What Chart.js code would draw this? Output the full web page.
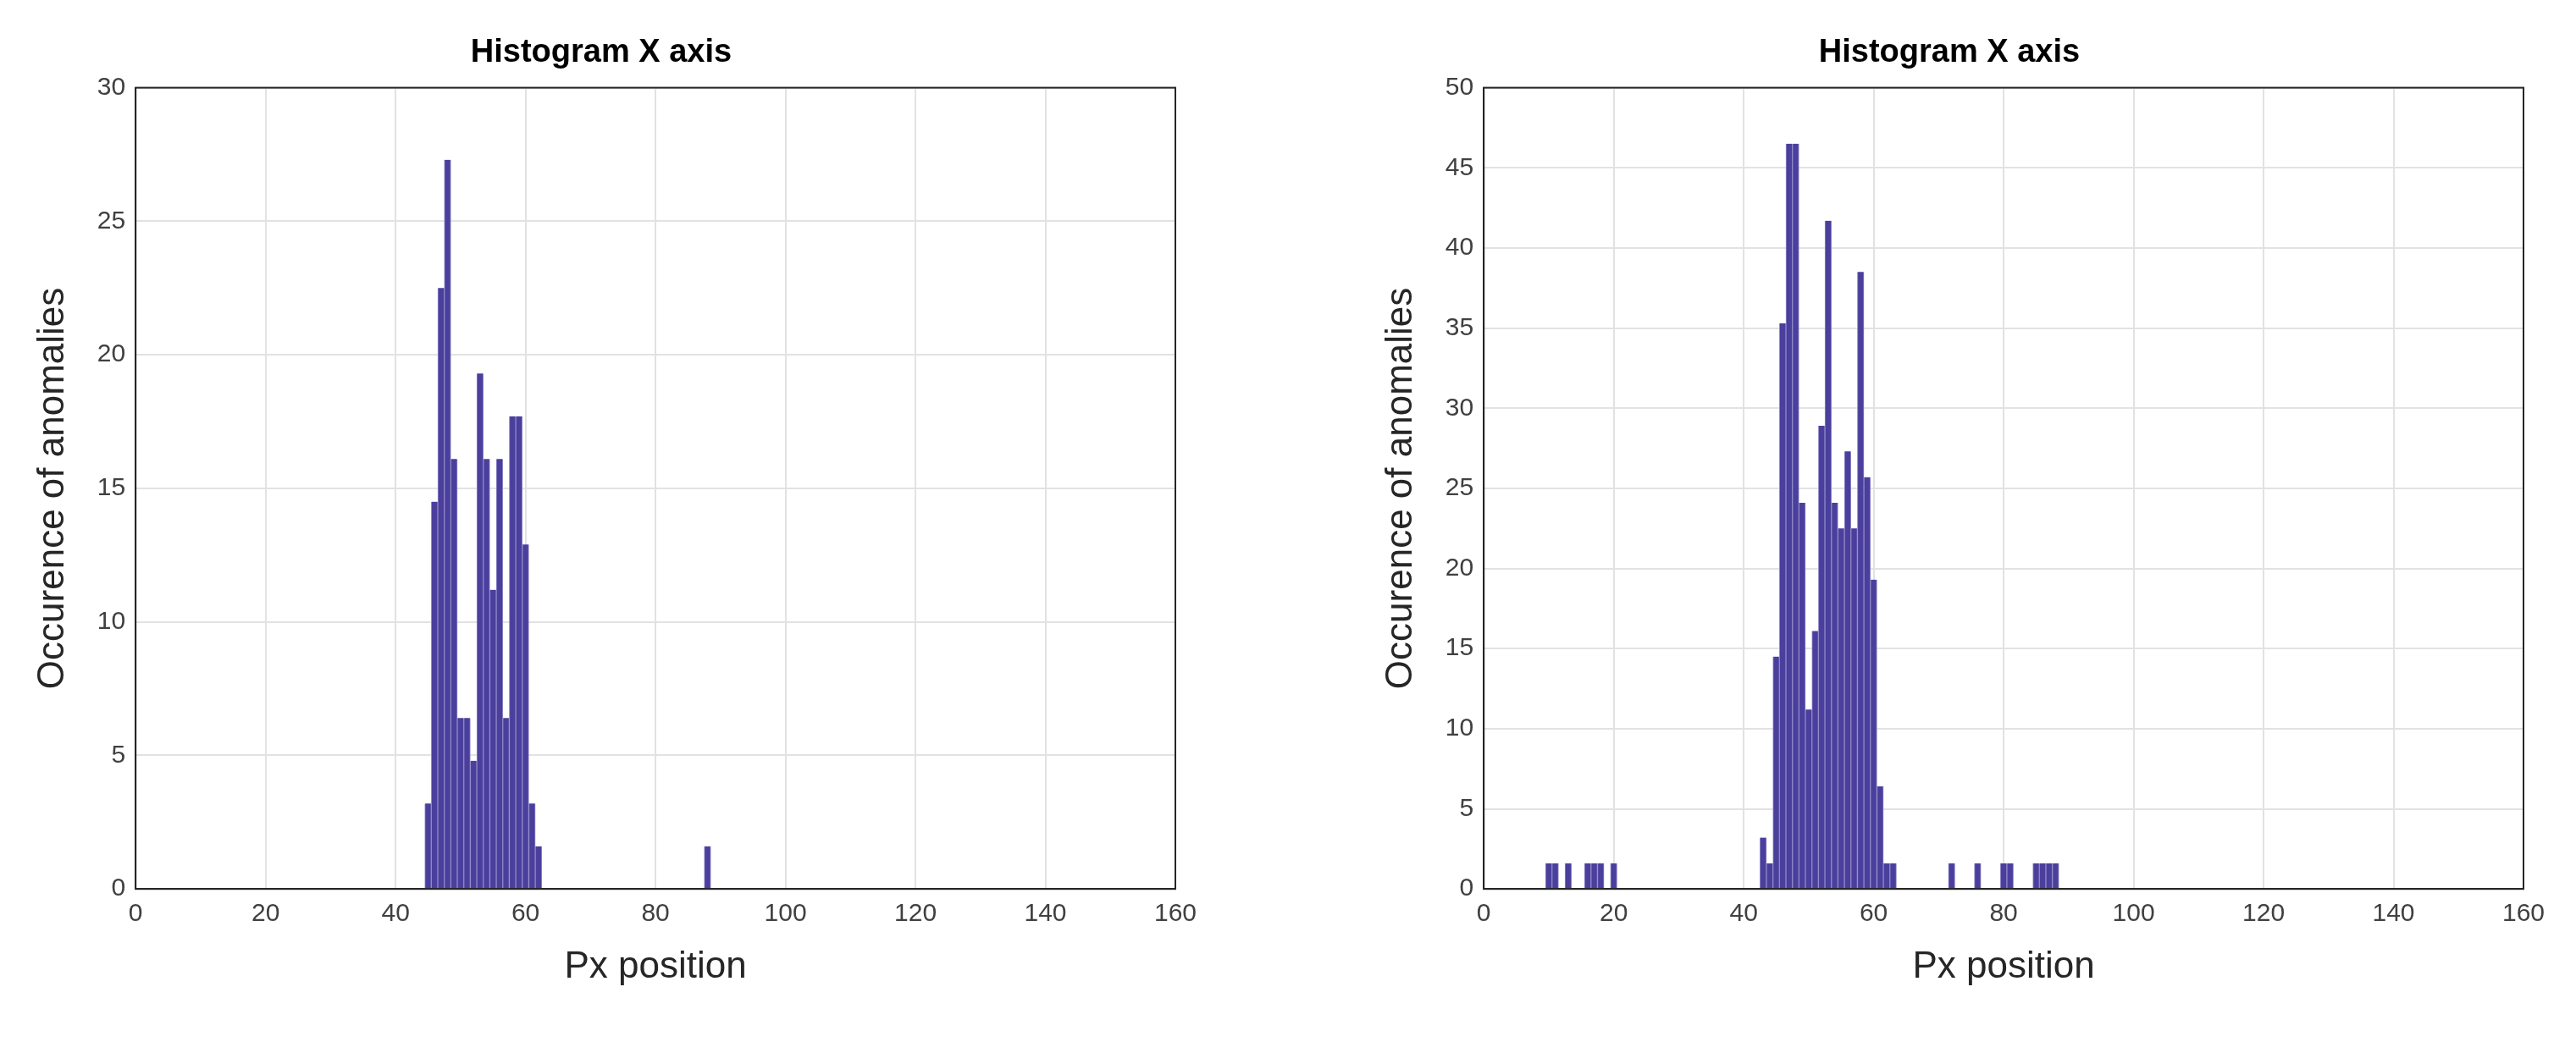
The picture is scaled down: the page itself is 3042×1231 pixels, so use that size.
<!DOCTYPE html>
<html><head><meta charset="utf-8">
<script src="https://cdn.jsdelivr.net/npm/chart.js@4"></script>
<style>
body{margin:0;background:#fff;width:3042px;height:1231px;overflow:hidden;font-family:Arial,"Liberation Sans",sans-serif}
.box{position:absolute;top:0;height:1231px}
</style></head><body>
<div class="box" style="left:0;width:1440px"><canvas id="c1"></canvas></div>
<div class="box" style="left:1590px;width:1430px"><canvas id="c2"></canvas></div>
<script>
const xTicks = [0,20,40,60,80,100,120,140,160];
const leftBins = [45,46,47,48,49,50,51,52,53,54,55,56,57,58,59,60,61,62,88];
const leftCounts = [3.2,14.5,22.5,27.3,16.1,6.4,6.4,4.8,19.3,16.1,11.2,16.1,6.4,17.7,17.7,12.9,3.2,1.6,1.6];
const rightBins = [10,11,13,16,17,18,20,43,44,45,46,47,48,49,50,51,52,53,54,55,56,57,58,59,60,61,62,63,72,76,80,81,85,86,87,88];
const rightCounts = [1.6,1.6,1.6,1.6,1.6,1.6,1.6,3.2,1.6,14.5,35.3,46.5,46.5,24.1,11.2,16.1,28.9,41.7,24.1,22.5,27.3,22.5,38.5,25.7,19.3,6.4,1.6,1.6,1.6,1.6,1.6,1.6,1.6,1.6,1.6,1.6];
const titleText = 'Histogram X axis';
const xTitle = 'Px position';
const yTitle = 'Occurence of anomalies';

const boxPlugin = {id:'box',afterDraw(c){const a=c.chartArea,ctx=c.ctx;ctx.save();ctx.strokeStyle='#262626';ctx.lineWidth=2;ctx.strokeRect(a.left,a.top,a.right-a.left,a.bottom-a.top);ctx.restore();}};

function make(id,bins,counts,ymax,padL,padR){
  new Chart(document.getElementById(id),{
    type:'bar',
    data:{datasets:[{data:bins.map((b,i)=>({x:b,y:counts[i]})),backgroundColor:'#4a3f9c',borderColor:'#8f88c8',borderWidth:{left:1,right:1,top:0,bottom:0},barPercentage:1,categoryPercentage:1,borderSkipped:false}]},
    options:{responsive:true,maintainAspectRatio:false,animation:false,
      layout:{padding:{left:padL,right:padR,top:30,bottom:58}},
      plugins:{legend:{display:false},tooltip:{enabled:false},
        title:{display:true,text:titleText,color:'#000',font:{size:38,weight:'bold',family:'Arial'},padding:{top:10,bottom:18}}},
      scales:{
        x:{type:'linear',min:0,max:160,offset:false,afterBuildTicks:s=>{s.ticks=xTicks.map(v=>({value:v}));},
          grid:{color:'#e2e2e2',lineWidth:2,tickLength:0,offset:false},border:{color:'#262626',width:2},
          ticks:{color:'#404040',font:{size:30,family:'Arial'},padding:12,autoSkip:false},
          title:{display:true,text:xTitle,color:'#262626',font:{size:44,family:'Arial'},padding:{top:6}}},
        y:{min:0,max:ymax,ticks:{stepSize:5,color:'#404040',font:{size:30,family:'Arial'},padding:12},
          grid:{color:'#e2e2e2',lineWidth:2,tickLength:0},border:{color:'#262626',width:2},
          title:{display:true,text:yTitle,color:'#262626',font:{size:44,family:'Arial'},padding:{bottom:14}}}
      }},
    plugins:[boxPlugin]
  });
}
make('c1',leftBins,leftCounts,30,32,52);
make('c2',rightBins,rightCounts,50,34,40);
</script></body></html>
